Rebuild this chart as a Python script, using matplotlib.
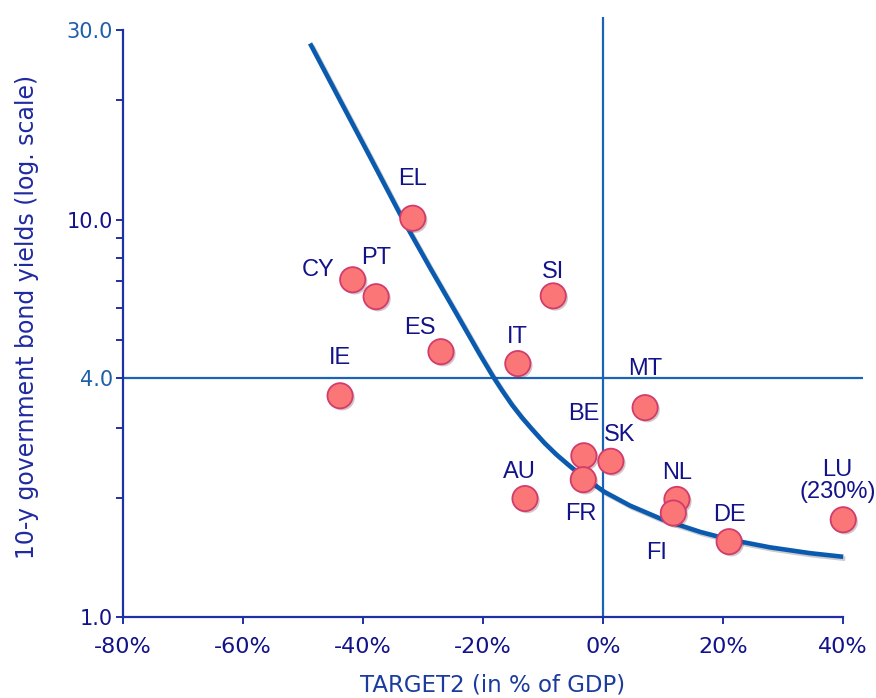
import matplotlib
matplotlib.use("Agg")
import matplotlib.pyplot as plt
import matplotlib.patheffects as pe
from matplotlib.ticker import FixedLocator, NullFormatter

# country data: TARGET2 balance (% of GDP) vs 10-y yield
countries = ["EL", "CY", "PT", "ES", "IE", "IT", "SI", "MT",
             "BE", "SK", "FR", "AU", "NL", "FI", "DE", "LU\n(230%)"]
target2 = [-31.7, -41.7, -37.8, -27.0, -43.8, -14.2, -8.3, 7.0,
           -3.2, 1.3, -3.3, -13.0, 12.3, 11.7, 21.0, 40.0]
yields = [10.1, 7.07, 6.41, 4.66, 3.61, 4.35, 6.44, 3.37,
          2.55, 2.47, 2.22, 1.99, 1.98, 1.83, 1.55, 1.76]

# fitted curve
curve_x = [-48.8, -43.8, -38.8, -33.3, -28.8, -24.3, -20.5, -18.3, -16.8, -15.2,
           -13.5, -11.8, -9.8, -7.8, -5.5, -3.0, 0.2, 4.5, 10.0, 16.2,
           21.0, 27.8, 34.5, 40.0]
curve_y = [27.8, 20.0, 14.4, 10.0, 7.57, 5.77, 4.58, 4.03, 3.72, 3.43,
           3.18, 2.97, 2.75, 2.57, 2.40, 2.24, 2.07, 1.91, 1.76, 1.64,
           1.57, 1.50, 1.45, 1.42]

xticks = [-80, -60, -40, -20, 0, 20, 40]
yticks = [1.0, 4.0, 10.0, 30.0]
yminor = [2, 3, 5, 6, 7, 8, 9, 20]

# label offsets in points (dx, dy)
offsets = {"EL": (0, 28), "CY": (-25, 7), "PT": (0, 28), "ES": (-15, 17),
           "IE": (0, 27), "IT": (0, 19), "SI": (0, 17), "MT": (0, 28),
           "BE": (0, 30), "SK": (6, 19), "FR": (-2, -25), "AU": (-4, 19),
           "NL": (0, 19), "FI": (-12, -29), "DE": (0, 19), "LU\n(230%)": (-4, 28)}

navy = "#12128a"
spine_c = "#1f2fa5"
light = "#1f5fa8"

fig = plt.figure(figsize=(8.76, 6.98), dpi=100)
ax = fig.add_axes([0.1401, 0.1156, 0.8451, 0.860])
ax.set_yscale("log")
ax.set_xlim(-80, 43.3)
ax.set_ylim(1, 32.4)

ax.hlines(4, -80, 43.3, color="#1b63b5", lw=1.6, zorder=1)
ax.vlines(0, 1, 32.4, color="#1b63b5", lw=1.6, zorder=1)

shadow = [pe.SimpleLineShadow(offset=(1.5, -1.5), alpha=0.2), pe.Normal()]
ax.plot(curve_x, curve_y, color="#0a5bb0", lw=3.3, zorder=2,
        solid_capstyle="butt", solid_joinstyle="round", path_effects=shadow)

ax.scatter(target2, yields, s=330, c="#fb7676", edgecolors="#d23c6c",
           linewidths=1.3, zorder=3,
           path_effects=[pe.SimplePatchShadow(offset=(1.5, -1.5), alpha=0.25), pe.Normal()])

for name, x, y in zip(countries, target2, yields):
    dx, dy = offsets[name]
    ax.annotate(name, (x, y), xytext=(dx, dy), textcoords="offset points",
                ha="center", va="center", fontsize=17, color=navy,
                family=["Liberation Sans", "DejaVu Sans"], linespacing=1.0, zorder=4)

for side in ["top", "right"]:
    ax.spines[side].set_visible(False)
for side in ["left", "bottom"]:
    ax.spines[side].set_color(spine_c)
    ax.spines[side].set_linewidth(1.6)
ax.spines["bottom"].set_bounds(-80, 40)
ax.spines["left"].set_bounds(1, 30)

ax.set_xticks(xticks)
ax.set_xticklabels([f"{t}%" for t in xticks], fontsize=16, color=navy)
ax.yaxis.set_major_locator(FixedLocator(yticks))
ax.yaxis.set_minor_locator(FixedLocator(yminor))
ax.yaxis.set_minor_formatter(NullFormatter())
ax.set_yticklabels([f"{t:.1f}" for t in yticks], fontsize=15)
for lab, c in zip(ax.get_yticklabels(), [navy, light, navy, light]):
    lab.set_color(c)

ax.tick_params(axis="x", which="both", direction="out", length=5, width=1.4,
               color=spine_c, pad=9)
ax.tick_params(axis="y", which="both", direction="out", length=5, width=1.4,
               color=spine_c, pad=2)

ax.set_xlabel("TARGET2 (in % of GDP)", fontsize=16.5, color="#1b3c9e", labelpad=12)
ax.set_ylabel("10-y government bond yields (log. scale)", fontsize=17,
              color="#1f2aa0", labelpad=20)

fig.savefig("out.png", dpi=100)
